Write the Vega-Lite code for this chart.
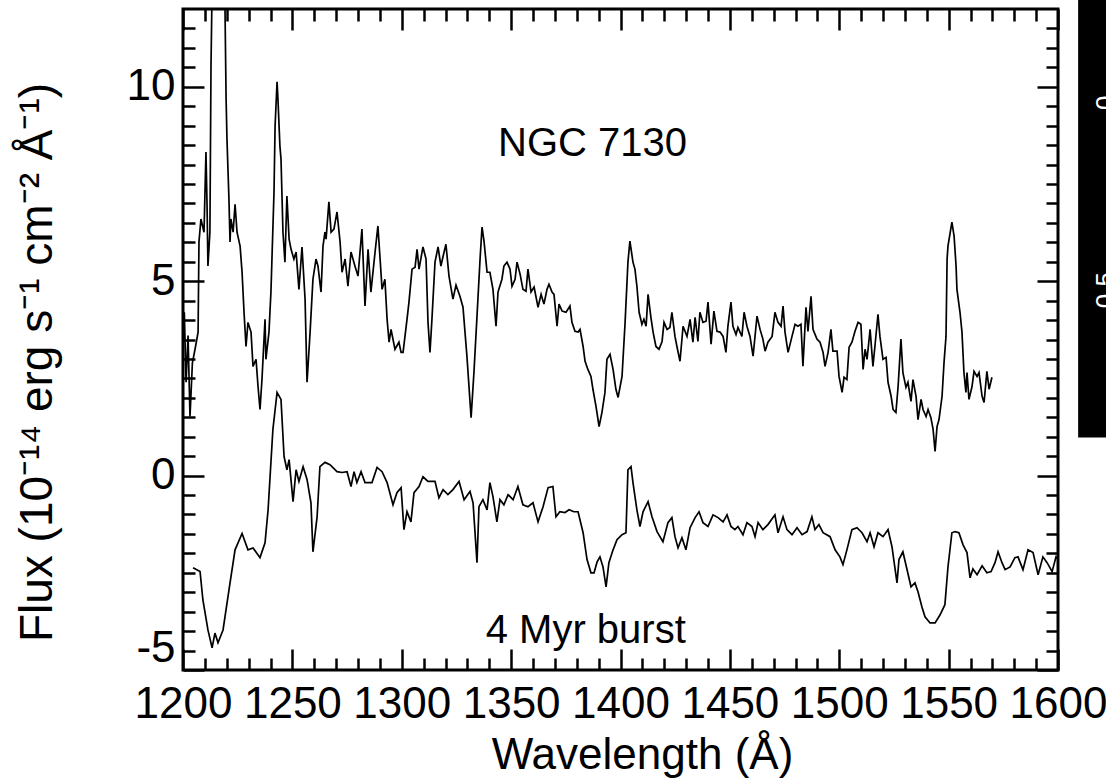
{
  "$schema": "https://vega.github.io/schema/vega-lite/v6.json",
  "width": 875,
  "height": 661,
  "autosize": {"type": "none"},
  "padding": {"left": 183, "top": 9, "right": 48, "bottom": 114},
  "background": "white",
  "config": {
    "view": {"stroke": "black", "strokeWidth": 3},
    "font": "Liberation Sans",
    "axis": {
      "grid": false,
      "domain": false,
      "tickColor": "black",
      "tickWidth": 2.5,
      "labelColor": "black",
      "titleColor": "black",
      "labelFont": "Liberation Sans",
      "titleFont": "Liberation Sans",
      "labelFontSize": 44,
      "titleFontSize": 44,
      "titleFontWeight": "normal",
      "labelFlush": false,
      "labelOverlap": false
    }
  },
  "datasets": {
    "ngc": [
      {"wavelength": 1200.0, "flux": 3.4}, {"wavelength": 1200.6, "flux": 4.2}, {"wavelength": 1201.4, "flux": 2.4}, {"wavelength": 1202.3, "flux": 3.6}, {"wavelength": 1203.2, "flux": 1.52}, {"wavelength": 1204.3, "flux": 2.9}, {"wavelength": 1205.5, "flux": 3.25}, {"wavelength": 1206.9, "flux": 3.69}, {"wavelength": 1207.3, "flux": 6.01}, {"wavelength": 1208.2, "flux": 6.6}, {"wavelength": 1209.6, "flux": 6.26}, {"wavelength": 1210.5, "flux": 8.32}, {"wavelength": 1211.0, "flux": 6.93}, {"wavelength": 1211.4, "flux": 5.39}, {"wavelength": 1212.3, "flux": 6.26}, {"wavelength": 1212.8, "flux": 10.54}, {"wavelength": 1213.8, "flux": 14.5}, {"wavelength": 1216.0, "flux": 17.0}, {"wavelength": 1218.5, "flux": 15.0}, {"wavelength": 1219.2, "flux": 12.0}, {"wavelength": 1219.7, "flux": 9.69}, {"wavelength": 1220.1, "flux": 8.66}, {"wavelength": 1221.0, "flux": 7.11}, {"wavelength": 1221.5, "flux": 6.01}, {"wavelength": 1221.9, "flux": 6.6}, {"wavelength": 1222.9, "flux": 6.26}, {"wavelength": 1223.8, "flux": 6.98}, {"wavelength": 1224.7, "flux": 6.26}, {"wavelength": 1226.1, "flux": 5.9}, {"wavelength": 1227.0, "flux": 5.23}, {"wavelength": 1227.9, "flux": 4.2}, {"wavelength": 1228.8, "flux": 3.32}, {"wavelength": 1229.7, "flux": 3.94}, {"wavelength": 1231.1, "flux": 3.69}, {"wavelength": 1232.0, "flux": 2.81}, {"wavelength": 1233.4, "flux": 2.99}, {"wavelength": 1234.3, "flux": 2.29}, {"wavelength": 1235.2, "flux": 1.7}, {"wavelength": 1236.1, "flux": 2.47}, {"wavelength": 1237.5, "flux": 4.02}, {"wavelength": 1237.9, "flux": 2.99}, {"wavelength": 1239.3, "flux": 3.69}, {"wavelength": 1240.2, "flux": 4.72}, {"wavelength": 1241.6, "flux": 7.29}, {"wavelength": 1242.1, "flux": 9.0}, {"wavelength": 1243.0, "flux": 10.13}, {"wavelength": 1243.4, "flux": 9.69}, {"wavelength": 1244.3, "flux": 8.48}, {"wavelength": 1244.8, "flux": 8.14}, {"wavelength": 1245.7, "flux": 6.26}, {"wavelength": 1246.6, "flux": 5.49}, {"wavelength": 1247.5, "flux": 7.19}, {"wavelength": 1248.5, "flux": 6.08}, {"wavelength": 1249.4, "flux": 5.82}, {"wavelength": 1250.7, "flux": 5.57}, {"wavelength": 1251.7, "flux": 5.75}, {"wavelength": 1253.0, "flux": 4.79}, {"wavelength": 1254.4, "flux": 5.88}, {"wavelength": 1255.8, "flux": 4.54}, {"wavelength": 1256.7, "flux": 2.4}, {"wavelength": 1258.1, "flux": 3.69}, {"wavelength": 1259.4, "flux": 5.05}, {"wavelength": 1260.8, "flux": 5.57}, {"wavelength": 1261.7, "flux": 5.39}, {"wavelength": 1263.1, "flux": 4.72}, {"wavelength": 1264.0, "flux": 5.9}, {"wavelength": 1264.9, "flux": 6.26}, {"wavelength": 1265.4, "flux": 6.08}, {"wavelength": 1266.7, "flux": 7.04}, {"wavelength": 1267.7, "flux": 6.26}, {"wavelength": 1269.0, "flux": 6.34}, {"wavelength": 1270.4, "flux": 6.78}, {"wavelength": 1271.8, "flux": 6.01}, {"wavelength": 1272.7, "flux": 5.23}, {"wavelength": 1274.1, "flux": 5.57}, {"wavelength": 1275.4, "flux": 4.87}, {"wavelength": 1276.8, "flux": 5.75}, {"wavelength": 1278.6, "flux": 5.39}, {"wavelength": 1280.0, "flux": 5.13}, {"wavelength": 1281.8, "flux": 6.34}, {"wavelength": 1283.2, "flux": 4.36}, {"wavelength": 1284.6, "flux": 5.82}, {"wavelength": 1285.9, "flux": 4.72}, {"wavelength": 1287.8, "flux": 5.75}, {"wavelength": 1289.1, "flux": 6.42}, {"wavelength": 1290.1, "flux": 5.57}, {"wavelength": 1291.0, "flux": 4.79}, {"wavelength": 1292.3, "flux": 5.05}, {"wavelength": 1293.3, "flux": 4.02}, {"wavelength": 1294.2, "flux": 3.43}, {"wavelength": 1295.1, "flux": 3.76}, {"wavelength": 1296.9, "flux": 3.25}, {"wavelength": 1298.7, "flux": 3.43}, {"wavelength": 1299.7, "flux": 3.17}, {"wavelength": 1300.6, "flux": 3.17}, {"wavelength": 1302.4, "flux": 4.02}, {"wavelength": 1303.3, "flux": 4.46}, {"wavelength": 1304.7, "flux": 5.31}, {"wavelength": 1306.1, "flux": 5.36}, {"wavelength": 1307.0, "flux": 5.82}, {"wavelength": 1307.9, "flux": 5.31}, {"wavelength": 1309.7, "flux": 5.88}, {"wavelength": 1311.1, "flux": 5.57}, {"wavelength": 1312.0, "flux": 3.94}, {"wavelength": 1312.9, "flux": 3.17}, {"wavelength": 1313.8, "flux": 4.02}, {"wavelength": 1315.2, "flux": 5.49}, {"wavelength": 1316.6, "flux": 5.88}, {"wavelength": 1317.9, "flux": 5.39}, {"wavelength": 1318.9, "flux": 5.64}, {"wavelength": 1320.2, "flux": 5.95}, {"wavelength": 1321.6, "flux": 5.13}, {"wavelength": 1323.4, "flux": 4.54}, {"wavelength": 1324.8, "flux": 4.9}, {"wavelength": 1326.6, "flux": 4.61}, {"wavelength": 1328.0, "flux": 4.33}, {"wavelength": 1329.8, "flux": 3.07}, {"wavelength": 1331.7, "flux": 1.49}, {"wavelength": 1333.0, "flux": 2.65}, {"wavelength": 1334.4, "flux": 4.1}, {"wavelength": 1335.8, "flux": 5.57}, {"wavelength": 1336.7, "flux": 6.39}, {"wavelength": 1337.6, "flux": 6.03}, {"wavelength": 1339.0, "flux": 5.23}, {"wavelength": 1340.3, "flux": 5.23}, {"wavelength": 1341.7, "flux": 4.79}, {"wavelength": 1343.1, "flux": 3.84}, {"wavelength": 1344.0, "flux": 4.72}, {"wavelength": 1345.8, "flux": 5.05}, {"wavelength": 1346.7, "flux": 5.39}, {"wavelength": 1348.1, "flux": 5.49}, {"wavelength": 1349.5, "flux": 5.31}, {"wavelength": 1350.4, "flux": 4.87}, {"wavelength": 1351.8, "flux": 5.05}, {"wavelength": 1352.7, "flux": 5.49}, {"wavelength": 1354.1, "flux": 5.18}, {"wavelength": 1355.4, "flux": 4.79}, {"wavelength": 1356.8, "flux": 4.74}, {"wavelength": 1357.7, "flux": 5.31}, {"wavelength": 1359.1, "flux": 4.72}, {"wavelength": 1360.5, "flux": 4.85}, {"wavelength": 1362.3, "flux": 4.33}, {"wavelength": 1363.7, "flux": 4.66}, {"wavelength": 1365.0, "flux": 4.41}, {"wavelength": 1366.4, "flux": 4.79}, {"wavelength": 1367.3, "flux": 4.92}, {"wavelength": 1368.7, "flux": 4.72}, {"wavelength": 1369.6, "flux": 4.66}, {"wavelength": 1371.0, "flux": 3.84}, {"wavelength": 1371.9, "flux": 4.41}, {"wavelength": 1373.3, "flux": 4.23}, {"wavelength": 1375.1, "flux": 4.2}, {"wavelength": 1376.9, "flux": 4.36}, {"wavelength": 1377.8, "flux": 3.94}, {"wavelength": 1379.2, "flux": 3.71}, {"wavelength": 1380.6, "flux": 3.69}, {"wavelength": 1381.5, "flux": 3.76}, {"wavelength": 1382.9, "flux": 3.32}, {"wavelength": 1383.8, "flux": 2.94}, {"wavelength": 1385.1, "flux": 2.73}, {"wavelength": 1386.5, "flux": 2.55}, {"wavelength": 1387.4, "flux": 2.22}, {"wavelength": 1388.8, "flux": 1.78}, {"wavelength": 1390.2, "flux": 1.26}, {"wavelength": 1391.5, "flux": 1.62}, {"wavelength": 1392.9, "flux": 2.14}, {"wavelength": 1393.8, "flux": 2.99}, {"wavelength": 1395.2, "flux": 3.12}, {"wavelength": 1396.6, "flux": 2.73}, {"wavelength": 1397.9, "flux": 2.22}, {"wavelength": 1398.9, "flux": 2.01}, {"wavelength": 1400.7, "flux": 2.55}, {"wavelength": 1402.1, "flux": 3.94}, {"wavelength": 1403.4, "flux": 5.49}, {"wavelength": 1404.3, "flux": 6.03}, {"wavelength": 1405.7, "flux": 5.49}, {"wavelength": 1406.6, "flux": 5.31}, {"wavelength": 1407.5, "flux": 4.87}, {"wavelength": 1408.5, "flux": 4.2}, {"wavelength": 1409.8, "flux": 3.89}, {"wavelength": 1410.7, "flux": 4.02}, {"wavelength": 1411.7, "flux": 3.84}, {"wavelength": 1412.6, "flux": 4.66}, {"wavelength": 1413.9, "flux": 4.07}, {"wavelength": 1414.9, "flux": 3.69}, {"wavelength": 1416.2, "flux": 3.32}, {"wavelength": 1417.6, "flux": 3.25}, {"wavelength": 1419.0, "flux": 3.45}, {"wavelength": 1419.9, "flux": 3.94}, {"wavelength": 1421.3, "flux": 3.76}, {"wavelength": 1422.6, "flux": 3.81}, {"wavelength": 1423.5, "flux": 4.2}, {"wavelength": 1424.9, "flux": 3.58}, {"wavelength": 1425.8, "flux": 3.32}, {"wavelength": 1427.2, "flux": 2.94}, {"wavelength": 1428.6, "flux": 3.84}, {"wavelength": 1430.4, "flux": 3.58}, {"wavelength": 1431.8, "flux": 4.02}, {"wavelength": 1433.1, "flux": 3.43}, {"wavelength": 1434.1, "flux": 4.07}, {"wavelength": 1435.4, "flux": 3.45}, {"wavelength": 1436.3, "flux": 4.2}, {"wavelength": 1437.7, "flux": 3.94}, {"wavelength": 1439.1, "flux": 3.97}, {"wavelength": 1440.0, "flux": 4.46}, {"wavelength": 1441.4, "flux": 3.38}, {"wavelength": 1442.7, "flux": 4.23}, {"wavelength": 1444.1, "flux": 3.71}, {"wavelength": 1445.5, "flux": 3.69}, {"wavelength": 1446.9, "flux": 3.58}, {"wavelength": 1448.2, "flux": 3.17}, {"wavelength": 1449.1, "flux": 3.84}, {"wavelength": 1450.5, "flux": 4.46}, {"wavelength": 1451.4, "flux": 3.84}, {"wavelength": 1452.8, "flux": 3.63}, {"wavelength": 1453.7, "flux": 3.81}, {"wavelength": 1455.5, "flux": 3.58}, {"wavelength": 1456.5, "flux": 4.2}, {"wavelength": 1457.8, "flux": 3.84}, {"wavelength": 1459.2, "flux": 3.58}, {"wavelength": 1460.6, "flux": 3.07}, {"wavelength": 1462.4, "flux": 4.1}, {"wavelength": 1463.8, "flux": 3.76}, {"wavelength": 1465.1, "flux": 3.51}, {"wavelength": 1466.1, "flux": 3.2}, {"wavelength": 1467.4, "flux": 3.43}, {"wavelength": 1469.3, "flux": 3.58}, {"wavelength": 1470.6, "flux": 4.2}, {"wavelength": 1472.0, "flux": 3.94}, {"wavelength": 1473.4, "flux": 3.84}, {"wavelength": 1474.3, "flux": 4.36}, {"wavelength": 1475.2, "flux": 3.69}, {"wavelength": 1476.6, "flux": 3.17}, {"wavelength": 1478.4, "flux": 3.58}, {"wavelength": 1479.8, "flux": 3.89}, {"wavelength": 1481.1, "flux": 3.84}, {"wavelength": 1482.5, "flux": 3.89}, {"wavelength": 1483.4, "flux": 2.81}, {"wavelength": 1484.8, "flux": 4.33}, {"wavelength": 1485.7, "flux": 3.71}, {"wavelength": 1487.1, "flux": 4.61}, {"wavelength": 1488.0, "flux": 3.76}, {"wavelength": 1489.8, "flux": 3.51}, {"wavelength": 1491.2, "flux": 3.43}, {"wavelength": 1492.6, "flux": 3.17}, {"wavelength": 1493.5, "flux": 2.81}, {"wavelength": 1494.9, "flux": 3.17}, {"wavelength": 1496.2, "flux": 3.76}, {"wavelength": 1497.1, "flux": 3.2}, {"wavelength": 1499.0, "flux": 3.2}, {"wavelength": 1499.9, "flux": 2.55}, {"wavelength": 1501.3, "flux": 2.14}, {"wavelength": 1502.2, "flux": 2.53}, {"wavelength": 1503.5, "flux": 2.47}, {"wavelength": 1504.5, "flux": 3.3}, {"wavelength": 1505.8, "flux": 3.43}, {"wavelength": 1507.2, "flux": 3.71}, {"wavelength": 1508.6, "flux": 3.94}, {"wavelength": 1509.9, "flux": 3.89}, {"wavelength": 1510.9, "flux": 2.73}, {"wavelength": 1511.8, "flux": 3.25}, {"wavelength": 1512.7, "flux": 2.99}, {"wavelength": 1514.1, "flux": 3.76}, {"wavelength": 1515.4, "flux": 2.81}, {"wavelength": 1516.3, "flux": 3.32}, {"wavelength": 1517.7, "flux": 4.15}, {"wavelength": 1518.6, "flux": 3.58}, {"wavelength": 1520.0, "flux": 2.99}, {"wavelength": 1521.4, "flux": 3.04}, {"wavelength": 1522.3, "flux": 2.4}, {"wavelength": 1523.7, "flux": 2.04}, {"wavelength": 1524.6, "flux": 1.7}, {"wavelength": 1525.9, "flux": 1.62}, {"wavelength": 1526.9, "flux": 2.29}, {"wavelength": 1528.2, "flux": 3.51}, {"wavelength": 1529.1, "flux": 2.65}, {"wavelength": 1530.5, "flux": 2.27}, {"wavelength": 1531.4, "flux": 2.4}, {"wavelength": 1532.8, "flux": 1.91}, {"wavelength": 1533.7, "flux": 2.47}, {"wavelength": 1535.1, "flux": 2.04}, {"wavelength": 1536.0, "flux": 1.44}, {"wavelength": 1537.4, "flux": 1.96}, {"wavelength": 1538.3, "flux": 1.7}, {"wavelength": 1539.7, "flux": 1.52}, {"wavelength": 1540.6, "flux": 1.7}, {"wavelength": 1541.9, "flux": 1.49}, {"wavelength": 1542.9, "flux": 1.19}, {"wavelength": 1543.8, "flux": 0.62}, {"wavelength": 1544.7, "flux": 1.26}, {"wavelength": 1545.6, "flux": 1.44}, {"wavelength": 1547.0, "flux": 2.04}, {"wavelength": 1547.9, "flux": 2.91}, {"wavelength": 1548.8, "flux": 3.58}, {"wavelength": 1549.3, "flux": 5.57}, {"wavelength": 1549.7, "flux": 5.9}, {"wavelength": 1551.5, "flux": 6.52}, {"wavelength": 1552.5, "flux": 6.16}, {"wavelength": 1553.4, "flux": 5.39}, {"wavelength": 1553.8, "flux": 4.79}, {"wavelength": 1555.2, "flux": 4.2}, {"wavelength": 1556.1, "flux": 3.69}, {"wavelength": 1557.0, "flux": 2.65}, {"wavelength": 1557.9, "flux": 2.14}, {"wavelength": 1558.4, "flux": 2.65}, {"wavelength": 1559.3, "flux": 1.96}, {"wavelength": 1560.7, "flux": 2.29}, {"wavelength": 1561.6, "flux": 2.68}, {"wavelength": 1563.0, "flux": 2.55}, {"wavelength": 1563.9, "flux": 2.65}, {"wavelength": 1565.3, "flux": 2.04}, {"wavelength": 1566.2, "flux": 1.88}, {"wavelength": 1567.5, "flux": 2.68}, {"wavelength": 1568.5, "flux": 2.22}, {"wavelength": 1569.8, "flux": 2.53}
    ],
    "burst": [
      {"wavelength": 1204.6, "flux": -2.37}, {"wavelength": 1207.8, "flux": -2.47}, {"wavelength": 1209.1, "flux": -3.2}, {"wavelength": 1211.4, "flux": -3.97}, {"wavelength": 1213.3, "flux": -4.43}, {"wavelength": 1214.6, "flux": -4.05}, {"wavelength": 1216.0, "flux": -4.3}, {"wavelength": 1218.3, "flux": -3.97}, {"wavelength": 1221.5, "flux": -2.76}, {"wavelength": 1223.8, "flux": -1.91}, {"wavelength": 1227.0, "flux": -1.49}, {"wavelength": 1229.7, "flux": -1.91}, {"wavelength": 1232.0, "flux": -1.86}, {"wavelength": 1235.2, "flux": -2.11}, {"wavelength": 1237.5, "flux": -1.73}, {"wavelength": 1238.9, "flux": -0.88}, {"wavelength": 1241.1, "flux": 1.19}, {"wavelength": 1243.0, "flux": 2.14}, {"wavelength": 1244.8, "flux": 1.96}, {"wavelength": 1246.2, "flux": 0.49}, {"wavelength": 1247.5, "flux": 0.15}, {"wavelength": 1248.5, "flux": 0.41}, {"wavelength": 1250.3, "flux": -0.67}, {"wavelength": 1251.7, "flux": 0.15}, {"wavelength": 1253.0, "flux": -0.15}, {"wavelength": 1254.9, "flux": 0.23}, {"wavelength": 1256.7, "flux": -0.1}, {"wavelength": 1258.5, "flux": -0.7}, {"wavelength": 1259.4, "flux": -1.96}, {"wavelength": 1261.3, "flux": -1.06}, {"wavelength": 1262.6, "flux": 0.23}, {"wavelength": 1264.9, "flux": 0.34}, {"wavelength": 1267.2, "flux": 0.28}, {"wavelength": 1270.4, "flux": 0.1}, {"wavelength": 1272.7, "flux": 0.08}, {"wavelength": 1275.0, "flux": 0.1}, {"wavelength": 1276.8, "flux": -0.28}, {"wavelength": 1278.2, "flux": 0.1}, {"wavelength": 1279.5, "flux": -0.18}, {"wavelength": 1281.4, "flux": 0.1}, {"wavelength": 1283.2, "flux": -0.18}, {"wavelength": 1286.4, "flux": -0.18}, {"wavelength": 1288.7, "flux": 0.21}, {"wavelength": 1291.0, "flux": 0.1}, {"wavelength": 1293.3, "flux": -0.18}, {"wavelength": 1296.0, "flux": -0.75}, {"wavelength": 1297.8, "flux": -0.44}, {"wavelength": 1299.7, "flux": -0.31}, {"wavelength": 1301.0, "flux": -1.39}, {"wavelength": 1302.4, "flux": -0.93}, {"wavelength": 1304.2, "flux": -1.19}, {"wavelength": 1305.6, "flux": -0.44}, {"wavelength": 1307.9, "flux": -0.28}, {"wavelength": 1309.7, "flux": -0.03}, {"wavelength": 1312.0, "flux": -0.15}, {"wavelength": 1315.2, "flux": -0.15}, {"wavelength": 1317.0, "flux": -0.57}, {"wavelength": 1318.9, "flux": -0.36}, {"wavelength": 1321.1, "flux": -0.49}, {"wavelength": 1323.4, "flux": -0.36}, {"wavelength": 1326.2, "flux": -0.15}, {"wavelength": 1328.5, "flux": -0.62}, {"wavelength": 1331.2, "flux": -0.41}, {"wavelength": 1332.6, "flux": -0.7}, {"wavelength": 1334.4, "flux": -2.24}, {"wavelength": 1335.3, "flux": -0.8}, {"wavelength": 1337.1, "flux": -0.62}, {"wavelength": 1339.0, "flux": -0.88}, {"wavelength": 1340.3, "flux": -0.18}, {"wavelength": 1341.7, "flux": -0.54}, {"wavelength": 1343.5, "flux": -1.19}, {"wavelength": 1344.9, "flux": -0.62}, {"wavelength": 1346.7, "flux": -0.75}, {"wavelength": 1348.6, "flux": -0.49}, {"wavelength": 1350.9, "flux": -0.62}, {"wavelength": 1353.1, "flux": -0.28}, {"wavelength": 1355.4, "flux": -0.75}, {"wavelength": 1357.7, "flux": -0.8}, {"wavelength": 1360.0, "flux": -0.7}, {"wavelength": 1362.3, "flux": -1.19}, {"wavelength": 1364.6, "flux": -0.8}, {"wavelength": 1366.9, "flux": -0.31}, {"wavelength": 1369.1, "flux": -0.28}, {"wavelength": 1370.5, "flux": -1.06}, {"wavelength": 1372.3, "flux": -0.93}, {"wavelength": 1374.6, "flux": -0.95}, {"wavelength": 1376.5, "flux": -0.88}, {"wavelength": 1378.7, "flux": -0.93}, {"wavelength": 1380.6, "flux": -0.93}, {"wavelength": 1382.9, "flux": -1.47}, {"wavelength": 1384.7, "flux": -2.16}, {"wavelength": 1386.5, "flux": -2.5}, {"wavelength": 1387.9, "flux": -2.5}, {"wavelength": 1389.3, "flux": -2.22}, {"wavelength": 1390.6, "flux": -2.09}, {"wavelength": 1392.0, "flux": -2.35}, {"wavelength": 1393.4, "flux": -2.86}, {"wavelength": 1394.7, "flux": -2.24}, {"wavelength": 1396.6, "flux": -1.91}, {"wavelength": 1398.4, "flux": -1.65}, {"wavelength": 1400.7, "flux": -1.52}, {"wavelength": 1402.5, "flux": -1.47}, {"wavelength": 1403.4, "flux": 0.15}, {"wavelength": 1404.8, "flux": 0.23}, {"wavelength": 1405.7, "flux": -0.18}, {"wavelength": 1407.5, "flux": -0.88}, {"wavelength": 1408.9, "flux": -1.31}, {"wavelength": 1410.3, "flux": -0.93}, {"wavelength": 1412.6, "flux": -0.67}, {"wavelength": 1414.4, "flux": -1.06}, {"wavelength": 1416.7, "flux": -1.44}, {"wavelength": 1419.4, "flux": -1.7}, {"wavelength": 1421.7, "flux": -1.21}, {"wavelength": 1423.5, "flux": -1.08}, {"wavelength": 1424.9, "flux": -1.57}, {"wavelength": 1426.3, "flux": -1.86}, {"wavelength": 1428.1, "flux": -1.6}, {"wavelength": 1429.9, "flux": -1.91}, {"wavelength": 1431.8, "flux": -1.34}, {"wavelength": 1434.1, "flux": -1.08}, {"wavelength": 1435.9, "flux": -0.93}, {"wavelength": 1437.7, "flux": -1.21}, {"wavelength": 1440.0, "flux": -1.31}, {"wavelength": 1442.3, "flux": -1.01}, {"wavelength": 1444.6, "flux": -1.08}, {"wavelength": 1446.9, "flux": -1.19}, {"wavelength": 1448.7, "flux": -1.01}, {"wavelength": 1450.5, "flux": -1.31}, {"wavelength": 1452.3, "flux": -1.39}, {"wavelength": 1453.7, "flux": -1.31}, {"wavelength": 1456.0, "flux": -1.52}, {"wavelength": 1457.8, "flux": -1.21}, {"wavelength": 1460.1, "flux": -1.31}, {"wavelength": 1461.5, "flux": -1.57}, {"wavelength": 1462.9, "flux": -1.21}, {"wavelength": 1465.1, "flux": -1.39}, {"wavelength": 1467.4, "flux": -1.26}, {"wavelength": 1470.6, "flux": -1.01}, {"wavelength": 1472.0, "flux": -1.47}, {"wavelength": 1474.3, "flux": -1.06}, {"wavelength": 1476.1, "flux": -1.39}, {"wavelength": 1478.4, "flux": -1.52}, {"wavelength": 1480.7, "flux": -1.34}, {"wavelength": 1483.0, "flux": -1.52}, {"wavelength": 1485.3, "flux": -1.44}, {"wavelength": 1487.5, "flux": -1.06}, {"wavelength": 1488.9, "flux": -1.39}, {"wavelength": 1490.7, "flux": -1.26}, {"wavelength": 1492.6, "flux": -1.47}, {"wavelength": 1495.8, "flux": -1.57}, {"wavelength": 1498.1, "flux": -1.91}, {"wavelength": 1500.3, "flux": -2.09}, {"wavelength": 1501.7, "flux": -2.29}, {"wavelength": 1503.5, "flux": -1.91}, {"wavelength": 1505.8, "flux": -1.39}, {"wavelength": 1508.1, "flux": -1.34}, {"wavelength": 1510.4, "flux": -1.47}, {"wavelength": 1512.7, "flux": -1.7}, {"wavelength": 1514.1, "flux": -1.47}, {"wavelength": 1515.9, "flux": -1.83}, {"wavelength": 1517.7, "flux": -1.47}, {"wavelength": 1520.0, "flux": -1.57}, {"wavelength": 1522.3, "flux": -1.39}, {"wavelength": 1524.1, "flux": -1.83}, {"wavelength": 1526.4, "flux": -2.76}, {"wavelength": 1527.3, "flux": -2.16}, {"wavelength": 1529.1, "flux": -1.96}, {"wavelength": 1531.0, "flux": -2.42}, {"wavelength": 1532.8, "flux": -2.86}, {"wavelength": 1534.6, "flux": -2.76}, {"wavelength": 1536.0, "flux": -2.99}, {"wavelength": 1537.8, "flux": -3.38}, {"wavelength": 1539.2, "flux": -3.63}, {"wavelength": 1541.5, "flux": -3.79}, {"wavelength": 1543.8, "flux": -3.79}, {"wavelength": 1546.1, "flux": -3.58}, {"wavelength": 1548.3, "flux": -3.32}, {"wavelength": 1549.7, "flux": -2.35}, {"wavelength": 1551.5, "flux": -1.47}, {"wavelength": 1552.9, "flux": -1.44}, {"wavelength": 1554.7, "flux": -1.47}, {"wavelength": 1556.6, "flux": -1.78}, {"wavelength": 1558.4, "flux": -1.98}, {"wavelength": 1559.8, "flux": -2.63}, {"wavelength": 1561.1, "flux": -2.4}, {"wavelength": 1563.0, "flux": -2.55}, {"wavelength": 1565.3, "flux": -2.32}, {"wavelength": 1567.5, "flux": -2.5}, {"wavelength": 1569.4, "flux": -2.47}, {"wavelength": 1571.2, "flux": -2.24}, {"wavelength": 1572.6, "flux": -1.96}, {"wavelength": 1574.4, "flux": -2.24}, {"wavelength": 1575.8, "flux": -2.42}, {"wavelength": 1578.1, "flux": -2.35}, {"wavelength": 1580.3, "flux": -2.11}, {"wavelength": 1581.7, "flux": -2.09}, {"wavelength": 1584.0, "flux": -2.42}, {"wavelength": 1586.3, "flux": -1.91}, {"wavelength": 1588.6, "flux": -1.98}, {"wavelength": 1590.9, "flux": -2.55}, {"wavelength": 1593.1, "flux": -2.09}, {"wavelength": 1595.0, "flux": -2.24}, {"wavelength": 1597.3, "flux": -2.47}, {"wavelength": 1599.1, "flux": -2.09}, {"wavelength": 1600.0, "flux": -2.15}
    ]
  },
  "layer": [
    {
      "data": {"name": "ngc"},
      "mark": {"type": "line", "color": "black", "strokeWidth": 1.7, "clip": true},
      "encoding": {
        "x": {
          "field": "wavelength", "type": "quantitative",
          "scale": {"domain": [1200, 1600], "nice": false, "zero": false},
          "axis": {
            "orient": "bottom",
            "values": [1200, 1250, 1300, 1350, 1400, 1450, 1500, 1550, 1600],
            "labelExpr": "toString(datum.value)",
            "ticks": false, "tickSize": 0, "labelPadding": 12,
            "title": "Wavelength (Å)", "titleX": 459, "titleY": 98, "titleBaseline": "alphabetic"
          }
        },
        "y": {
          "field": "flux", "type": "quantitative",
          "scale": {"domain": [-5, 12], "nice": false, "zero": false},
          "axis": {
            "orient": "left",
            "values": [-5, 0, 5, 10],
            "labelExpr": "toString(datum.value)",
            "labelBaseline": {"condition": {"test": "datum.value == -5", "value": "bottom"}, "value": "middle"},
            "ticks": false, "tickSize": 0, "labelPadding": 8,
            "title": "Flux (10⁻¹⁴ erg s⁻¹ cm⁻² Å⁻¹)", "titleFontSize": 46, "titleX": -132, "titleY": 353, "titleBaseline": "alphabetic", "titleAngle": -90
          }
        }
      }
    },
    {
      "data": {"name": "burst"},
      "mark": {"type": "line", "color": "black", "strokeWidth": 1.7, "clip": true},
      "encoding": {
        "x": {
          "field": "wavelength", "type": "quantitative",
          "axis": {"orient": "top", "offset": -661, "values": [1200, 1250, 1300, 1350, 1400, 1450, 1500, 1550, 1600], "labels": false, "tickSize": 21, "title": null}
        },
        "y": {
          "field": "flux", "type": "quantitative",
          "axis": {"orient": "right", "offset": -875, "values": [-5, 0, 5, 10], "labels": false, "tickSize": 21, "title": null}
        }
      }
    },
    {
      "data": {"values": [{"wavelength": 1387.2, "flux": 8.23, "label": "NGC 7130"}]},
      "mark": {"type": "text", "color": "black", "fontSize": 40, "font": "Liberation Sans", "align": "center", "baseline": "alphabetic"},
      "encoding": {
        "x": {
          "field": "wavelength", "type": "quantitative",
          "axis": {"orient": "top", "offset": -661, "values": [1210, 1220, 1230, 1240, 1260, 1270, 1280, 1290, 1310, 1320, 1330, 1340, 1360, 1370, 1380, 1390, 1410, 1420, 1430, 1440, 1460, 1470, 1480, 1490, 1510, 1520, 1530, 1540, 1560, 1570, 1580, 1590], "labels": false, "tickSize": 12, "title": null}
        },
        "y": {
          "field": "flux", "type": "quantitative",
          "axis": {"orient": "right", "offset": -875, "values": [-4.5, -4, -3.5, -3, -2.5, -2, -1.5, -1, -0.5, 0.5, 1, 1.5, 2, 2.5, 3, 3.5, 4, 4.5, 5.5, 6, 6.5, 7, 7.5, 8, 8.5, 9, 9.5, 10.5, 11, 11.5], "labels": false, "tickSize": 12, "title": null}
        },
        "text": {"field": "label"}
      }
    },
    {
      "data": {"values": [{"wavelength": 1384.1, "flux": -4.31, "label": "4 Myr burst"}]},
      "mark": {"type": "text", "color": "black", "fontSize": 40, "font": "Liberation Sans", "align": "center", "baseline": "alphabetic"},
      "encoding": {
        "x": {
          "field": "wavelength", "type": "quantitative",
          "axis": {"orient": "bottom", "offset": -661, "values": [1200, 1250, 1300, 1350, 1400, 1450, 1500, 1550, 1600], "labels": false, "tickSize": 21, "title": null}
        },
        "y": {
          "field": "flux", "type": "quantitative",
          "axis": {"orient": "left", "offset": -875, "values": [-5, 0, 5, 10], "labels": false, "tickSize": 21, "title": null}
        },
        "text": {"field": "label"}
      }
    },
    {
      "data": {"values": [{"x1": 1609.2, "x2": 1630, "y1": 0.98, "y2": 13}]},
      "mark": {"type": "rect", "color": "black", "clip": false},
      "encoding": {
        "x": {
          "field": "x1", "type": "quantitative",
          "axis": {"orient": "bottom", "offset": -661, "values": [1210, 1220, 1230, 1240, 1260, 1270, 1280, 1290, 1310, 1320, 1330, 1340, 1360, 1370, 1380, 1390, 1410, 1420, 1430, 1440, 1460, 1470, 1480, 1490, 1510, 1520, 1530, 1540, 1560, 1570, 1580, 1590], "labels": false, "tickSize": 12, "title": null}
        },
        "x2": {"field": "x2"},
        "y": {
          "field": "y1", "type": "quantitative",
          "axis": {"orient": "left", "offset": -875, "values": [-4.5, -4, -3.5, -3, -2.5, -2, -1.5, -1, -0.5, 0.5, 1, 1.5, 2, 2.5, 3, 3.5, 4, 4.5, 5.5, 6, 6.5, 7, 7.5, 8, 8.5, 9, 9.5, 10.5, 11, 11.5], "labels": false, "tickSize": 12, "title": null}
        },
        "y2": {"field": "y2"}
      }
    },
    {
      "data": {"values": [{"wavelength": 1625.6, "flux": 9.59, "label": "0"}, {"wavelength": 1625.6, "flux": 4.77, "label": "0.5"}]},
      "mark": {"type": "text", "color": "white", "fontSize": 26, "font": "Liberation Sans", "angle": 270, "align": "center", "baseline": "alphabetic", "clip": false},
      "encoding": {
        "x": {"field": "wavelength", "type": "quantitative", "axis": null},
        "y": {"field": "flux", "type": "quantitative", "axis": null},
        "text": {"field": "label"}
      }
    }
  ],
  "resolve": {"axis": {"x": "independent", "y": "independent"}}
}
